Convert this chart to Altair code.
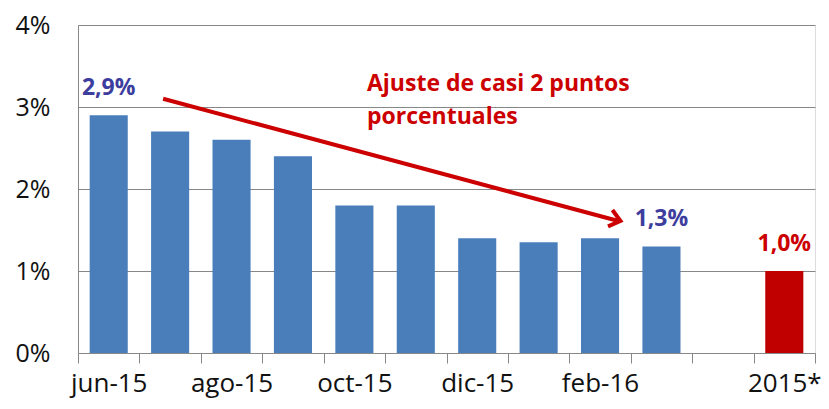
import altair as alt
import pandas as pd

categories = ["jun-15", "jul-15", "ago-15", "sep-15", "oct-15", "nov-15",
              "dic-15", "ene-16", "feb-16", "mar-16", " ", "2015*"]
bar_cats = ["jun-15", "jul-15", "ago-15", "sep-15", "oct-15", "nov-15",
            "dic-15", "ene-16", "feb-16", "mar-16", "2015*"]
values = [2.9, 2.7, 2.6, 2.4, 1.8, 1.8, 1.4, 1.35, 1.4, 1.3, 1.0]
bar_colors = ["#4a7ebb"] * 10 + ["#c00000"]
shown_labels = ["jun-15", "ago-15", "oct-15", "dic-15", "feb-16", "2015*"]

label_cats = ["jun-15", "mar-16", "2015*"]
label_vals = [2.9, 1.3, 1.0]
label_text = ["2,9%", "1,3%", "1,0%"]
label_colors = ["#3d3d9e", "#3d3d9e", "#cc0000"]

annot_lines = ["Ajuste de casi 2 puntos", "porcentuales"]
annot_y = [3.19, 2.79]

FONT = "Open Sans"

bars_df = pd.DataFrame({"cat": bar_cats, "val": values, "color": bar_colors})
lab_df = pd.DataFrame({"cat": label_cats, "val": label_vals, "txt": label_text, "color": label_colors})
ann_df = pd.DataFrame({"cat": ["sep-15"] * 2, "val": annot_y, "txt": annot_lines})
arrow_df = pd.DataFrame({"c1": ["jul-15"], "c2": ["mar-16"], "y1": [3.1], "y2": [1.61]})

xscale = alt.Scale(domain=categories, paddingInner=0, paddingOuter=0)
yscale = alt.Scale(domain=[0, 4])

x_axis = alt.Axis(
    title=None,
    labelExpr="indexof(" + str(shown_labels) + ", datum.value) >= 0 ? datum.value : ''",
    labelAngle=0, labelFont=FONT, labelFontSize=26, labelColor="#111111",
    tickBand="extent", tickSize=10, tickColor="#888888", domainColor="#888888",
    labelPadding=7, grid=False,
)
y_axis = alt.Axis(
    title=None, values=[0, 1, 2, 3, 4], labelExpr="datum.value + '%'",
    labelFont=FONT, labelFontSize=25, labelColor="#111111", labelPadding=28,
    ticks=False, domainColor="#888888", grid=True, gridColor="#878787", gridWidth=1.2,
)

base_x = alt.X("cat:N", scale=xscale, axis=x_axis, sort=categories)

bars = alt.Chart(bars_df).mark_bar(width=alt.RelativeBandSize(0.62)).encode(
    x=base_x,
    y=alt.Y("val:Q", scale=yscale, axis=y_axis),
    color=alt.Color("color:N", scale=None),
)

labels = alt.Chart(lab_df).mark_text(font=FONT, fontSize=23, fontWeight="bold",
                                      baseline="alphabetic", dy=-20).encode(
    x=alt.X("cat:N", scale=xscale, sort=categories),
    y=alt.Y("val:Q", scale=yscale),
    text="txt:N",
    color=alt.Color("color:N", scale=None),
)

annot = alt.Chart(ann_df).mark_text(font=FONT, fontSize=23, fontWeight="bold", align="left",
                                     baseline="alphabetic", color="#cc0000", dx=74).encode(
    x=alt.X("cat:N", scale=xscale, sort=categories),
    y=alt.Y("val:Q", scale=yscale),
    text="txt:N",
)

arrow_line = alt.Chart(arrow_df).mark_rule(color="#cc0000", strokeWidth=4,
                                            xOffset=-7, x2Offset=-43).encode(
    x=alt.X("c1:N", scale=xscale, sort=categories),
    x2="c2:N",
    y=alt.Y("y1:Q", scale=yscale),
    y2="y2:Q",
)

arrow_head = alt.Chart(arrow_df).mark_point(
    shape="M -1 -0.8 L 0 0 L -1 0.8", filled=False, stroke="#cc0000",
    strokeWidth=4, size=450, angle=15, xOffset=-41, opacity=1,
).encode(
    x=alt.X("c2:N", scale=xscale, sort=categories),
    y=alt.Y("y2:Q", scale=yscale),
)

chart = alt.layer(bars, labels, annot, arrow_line, arrow_head).properties(
    width=737, height=328,
    autosize=alt.AutoSizeParams(type="none"),
    padding={"left": 70, "top": 17, "right": 6, "bottom": 48},
).configure_view(stroke=None).configure(background="white")

chart.save("out.html", embed_options={"renderer": "svg", "actions": False})
